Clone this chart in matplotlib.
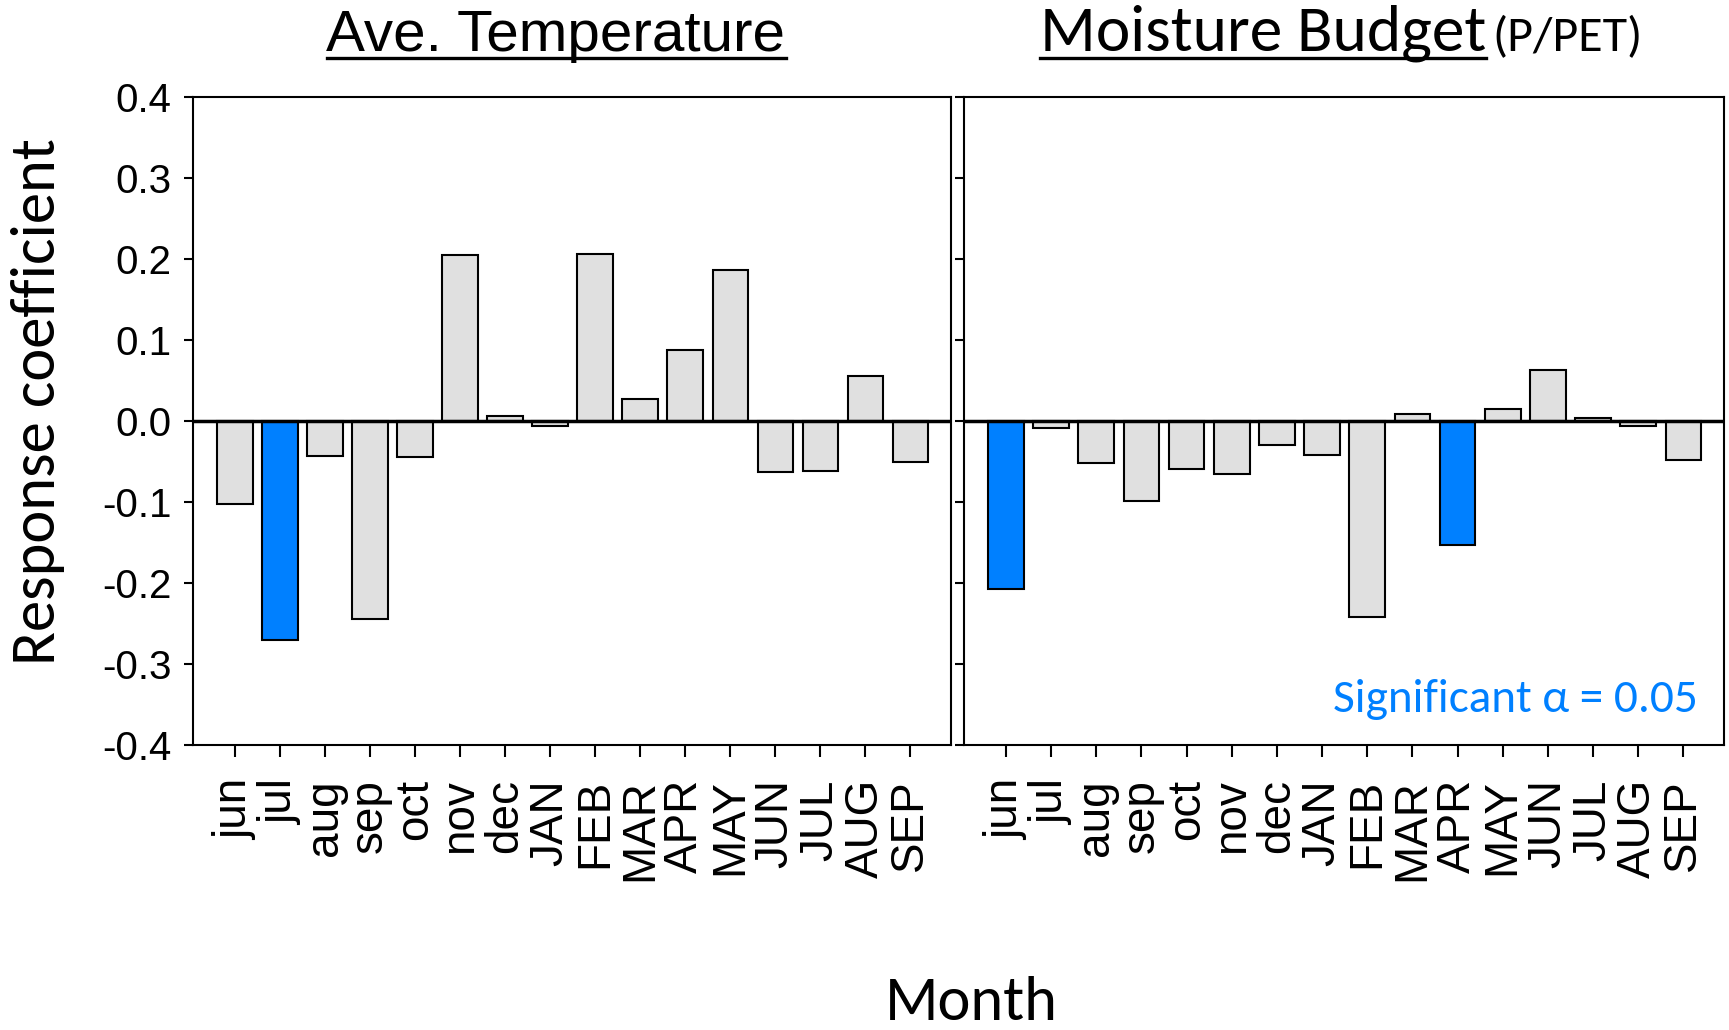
import matplotlib
matplotlib.use("Agg")
import matplotlib.pyplot as plt
from matplotlib import font_manager
from matplotlib.lines import Line2D

# ── Data ───────────────────────────────────────────────────────
months = ["jun", "jul", "aug", "sep", "oct", "nov", "dec", "JAN",
          "FEB", "MAR", "APR", "MAY", "JUN", "JUL", "AUG", "SEP"]

temp_coef = [-0.103, -0.270, -0.043, -0.244, -0.044, 0.205, 0.006, -0.006,
             0.206, 0.027, 0.088, 0.187, -0.063, -0.062, 0.055, -0.051]
temp_sig = [False, True, False, False, False, False, False, False,
            False, False, False, False, False, False, False, False]

moist_coef = [-0.208, -0.009, -0.052, -0.099, -0.059, -0.065, -0.030, -0.042,
              -0.242, 0.009, -0.153, 0.015, 0.063, 0.004, -0.006, -0.048]
moist_sig = [True, False, False, False, False, False, False, False,
             False, False, True, False, False, False, False, False]

yticks = [0.4, 0.3, 0.2, 0.1, 0.0, -0.1, -0.2, -0.3, -0.4]

GREY = "#e0e0e0"
BLUE = "#0080ff"

# ── Fonts ──────────────────────────────────────────────────────
installed = {f.name for f in font_manager.fontManager.ttflist}

def pick(*names):
    for n in names:
        if n in installed:
            return n
    return "DejaVu Sans"

ARIAL  = pick("Liberation Sans", "Arial")
NARROW = pick("Liberation Sans Narrow", "Arial Narrow", "Liberation Sans")
SOFT   = [pick("Carlito", "Calibri", "Lato"), "DejaVu Sans"]

# ── Figure ─────────────────────────────────────────────────────
W, H = 1729, 1030
fig = plt.figure(figsize=(W / 100, H / 100), dpi=100)

def axes_px(x0, x1, y_top, y_bot):
    return fig.add_axes([x0 / W, 1 - y_bot / H, (x1 - x0) / W, (y_bot - y_top) / H])

ax1 = axes_px(193, 951, 97, 745)
ax2 = axes_px(964, 1724, 97, 745)

for ax, vals, sig in [(ax1, temp_coef, temp_sig), (ax2, moist_coef, moist_sig)]:
    x = range(len(months))
    colors = [BLUE if s else GREY for s in sig]
    ax.bar(x, vals, width=0.79, color=colors, edgecolor="black", linewidth=1.5, zorder=2)
    ax.axhline(0, color="black", lw=2.5, zorder=3)
    ax.set_xlim(-0.93, 15.9)
    ax.set_ylim(-0.4, 0.4)
    ax.set_xticks(list(x))
    ax.set_xticklabels(months, rotation=90, fontsize=33, family=ARIAL)
    ax.set_yticks(yticks)
    ax.tick_params(axis="both", direction="out", width=1.5, color="black")
    ax.tick_params(axis="x", length=8.6, pad=16)
    ax.tick_params(axis="y", length=6.5)
    for sp in ax.spines.values():
        sp.set_linewidth(1.5)

ax1.set_yticklabels([f"{v:.1f}" for v in yticks], fontsize=29, family=NARROW)
ax1.tick_params(axis="y", pad=9)
ax2.set_yticklabels([])

ax2.text(0.966, 0.07, "Significant \u03b1 = 0.05", transform=ax2.transAxes,
         ha="right", va="center", color=BLUE, fontsize=34, family=SOFT)

fig.text(38 / W, 1 - 402 / H, "Response coefficient", rotation=90,
         ha="center", va="center", fontsize=45, family=SOFT)
fig.text(971 / W, 1 - 1003 / H, "Month", ha="center", va="center",
         fontsize=45, family=SOFT)

# ── Panel titles (underlined) ──────────────────────────────────
base_y = 1 - 51 / H
t1 = fig.text(556 / W, base_y, "Ave. Temperature", ha="center", va="baseline",
              fontsize=42, family=NARROW)
t2 = fig.text(1040 / W, base_y, "Moisture Budget", ha="left", va="baseline",
              fontsize=47, family=SOFT)

fig.canvas.draw()
r = fig.canvas.get_renderer()
b2 = t2.get_window_extent(r)
fig.text((b2.x1 + 6) / W, base_y, "(P/PET)", ha="left", va="baseline",
         fontsize=36, family=SOFT)

uy = 1 - 58 / H
for t in (t1, t2):
    bb = t.get_window_extent(r)
    fig.add_artist(Line2D([bb.x0 / W, bb.x1 / W], [uy, uy], color="black", lw=2.4,
                          transform=fig.transFigure))

fig.savefig("out.png", dpi=100)
